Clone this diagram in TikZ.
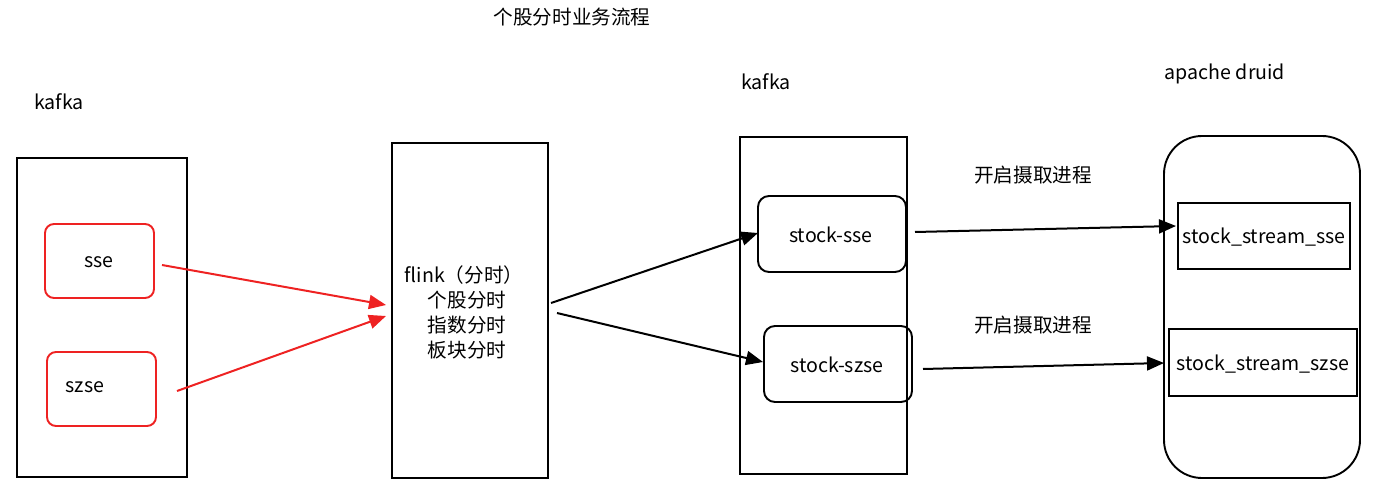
\documentclass[tikz,border=0pt]{standalone}
\usepackage{fontspec}
\setmainfont{Noto Sans CJK SC}
\usetikzlibrary{arrows.meta}
\definecolor{myred}{HTML}{EE2222}
\begin{document}
\begin{tikzpicture}[x=1pt,y=-1pt,
  every node/.style={font=\fontsize{19.6}{24}\selectfont, inner sep=0pt},
  box/.style={draw=black, line width=1.9pt},
  rbox/.style={draw=myred, line width=1.9pt, rounded corners=9pt},
  kbox/.style={draw=black, line width=1.9pt, rounded corners=11pt},
  arr/.style={line width=2pt, -{Triangle[length=17pt,width=14pt]}},
  rarr/.style={arr, draw=myred, fill=myred}]
\useasboundingbox (0,0) rectangle (1379,489);
\node (title) at (572,17) {个股分时业务流程};
\node (k1) at (59,102) {kafka};
\node (k2) at (766,82) {kafka};
\node (ad) at (1225,74) {apache druid};
% left kafka
\draw[box] (17,158) rectangle (187,477);
\draw[rbox] (45,224) rectangle (154,298);
\node (sse) at (99,262) {sse};
\coordinate (sseE) at (162,265);
\draw[rbox] (47,352) rectangle (156,426);
\node (szse) at (85,387) {szse};
\coordinate (szseE) at (177,391);
% flink
\draw[box] (392,143) rectangle (548,478);
\node[align=center] (flink) at (467,312) {\hspace*{-6pt}flink（分时）\\[1pt]个股分时\\[1pt]指数分时\\[1pt]板块分时};
\coordinate (fin1) at (386,305);
\coordinate (fin2) at (386,316);
\coordinate (fout1) at (551,303);
\coordinate (fout2) at (557,313);
\draw[rarr] (sseE) -- (fin1);
\draw[rarr] (szseE) -- (fin2);
% kafka 2
\draw[box] (740,137) rectangle (907,474);
\draw[kbox] (758,196) rectangle (906,272);
\node (ss) at (831,235) {stock-sse};
\draw[kbox] (764,326) rectangle (912,402);
\node (sz) at (837,365) {stock-szse};
\coordinate (ssW) at (758,233);
\coordinate (szW) at (763,362);
\draw[arr] (fout1) -- (ssW);
\draw[arr] (fout2) -- (szW);
% druid
\draw[box, rounded corners=38pt] (1164,136) rectangle (1360,478);
\draw[box] (1178,203) rectangle (1350,269);
\node (dss) at (1264,237) {stock\_stream\_sse};
\draw[box] (1169,329) rectangle (1357,396);
\node (dsz) at (1263,364) {stock\_stream\_szse};
\coordinate (ssE) at (915,232);
\coordinate (szE) at (923,369);
\coordinate (dssW) at (1176,226);
\coordinate (dszW) at (1164,363);
\draw[arr] (ssE) -- (dssW);
\draw[arr] (szE) -- (dszW);
\node (l1) at (1033,175) {开启摄取进程};
\node (l2) at (1033,325) {开启摄取进程};
\end{tikzpicture}
\end{document}
